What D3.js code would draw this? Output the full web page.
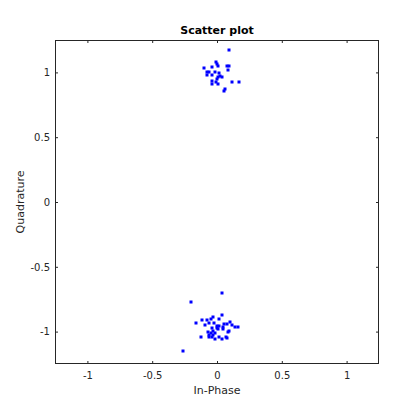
<!DOCTYPE html>
<html><head><meta charset="utf-8">
<script src="https://cdn.jsdelivr.net/npm/d3@7"></script>
<style>body{margin:0;background:#fff}svg{display:block}text{font-family:"DejaVu Sans",sans-serif}</style>
</head><body>
<script>
const upperI = [0.095,-0.010,-0.002,0.005,-0.036,-0.098,0.075,0.093,0.087,-0.079,-0.059,-0.013,-0.075,-0.041,0.015,0.023,0.010,0.036,-0.002,-0.036,-0.036,-0.008,0.010,0.116,0.172,0.064,0.056];
const upperQ = [1.171,1.080,1.065,1.053,1.042,1.032,1.049,1.047,1.016,1.005,1.001,1.003,0.980,0.980,0.993,0.972,0.962,0.967,0.949,0.934,0.908,0.926,0.913,0.924,0.924,0.874,0.854];
const lowerI = [0.041,-0.198,-0.260,-0.029,0.036,0.018,-0.046,-0.079,-0.118,-0.164,-0.062,-0.021,0.100,0.077,0.056,0.118,-0.093,-0.002,0.015,0.044,0.139,0.164,-0.036,-0.002,0.010,0.049,0.095,-0.067,-0.029,-0.046,-0.015,0.085,-0.059,-0.029,-0.123,-0.064,-0.041,-0.015,0.018,0.036,0.067,0.079];
const lowerQ = [-0.704,-0.774,-1.152,-0.890,-0.870,-0.903,-0.903,-0.913,-0.913,-0.936,-0.931,-0.936,-0.928,-0.939,-0.944,-0.951,-0.951,-0.954,-0.954,-0.962,-0.962,-0.967,-0.975,-0.975,-0.982,-0.982,-0.993,-1.001,-0.993,-1.013,-1.008,-1.005,-1.024,-1.029,-1.044,-1.039,-1.039,-1.059,-1.039,-1.055,-1.039,-1.052];
const xTicks = [-1,-0.5,0,0.5,1];
const yTicks = [-1,-0.5,0,0.5,1];
const xTickLabels = ["-1","-0.5","0","0.5","1"];
const yTickLabels = ["-1","-0.5","0","0.5","1"];
const titleText = "Scatter plot";
const xLabel = "In-Phase";
const yLabel = "Quadrature";

const W=420,H=420, L=55, R=379, T=40, B=364;
const svg=d3.select("body").append("svg").attr("width",W).attr("height",H);
const x=d3.scaleLinear().domain([-1.25,1.25]).range([L,R]);
const y=d3.scaleLinear().domain([-1.25,1.25]).range([B,T]);

const pts=[];
upperI.forEach((v,i)=>pts.push([v,upperQ[i]]));
lowerI.forEach((v,i)=>pts.push([v,lowerQ[i]]));

svg.append("rect").attr("x",L).attr("y",T).attr("width",R-L).attr("height",B-T).attr("fill","#fff");

const tcol="#262626";
function styleAxis(g){g.select(".domain").remove();g.selectAll("line").attr("stroke",tcol);g.selectAll("text").attr("fill",tcol).attr("font-size","10px");}
svg.append("g").attr("transform",`translate(0,${B})`).call(d3.axisBottom(x).tickValues(xTicks).tickFormat((d,i)=>xTickLabels[i]).tickSizeInner(-3).tickSizeOuter(0).tickPadding(8)).call(styleAxis);
svg.append("g").attr("transform",`translate(0,${T})`).call(d3.axisTop(x).tickValues(xTicks).tickFormat("").tickSizeInner(-3).tickSizeOuter(0)).call(styleAxis);
svg.append("g").attr("transform",`translate(${L},0)`).call(d3.axisLeft(y).tickValues(yTicks).tickFormat((d,i)=>yTickLabels[i]).tickSizeInner(-3).tickSizeOuter(0).tickPadding(5)).call(styleAxis);
svg.append("g").attr("transform",`translate(${R},0)`).call(d3.axisRight(y).tickValues(yTicks).tickFormat("").tickSizeInner(-3).tickSizeOuter(0)).call(styleAxis);

svg.append("rect").attr("x",L+0.5).attr("y",T+0.5).attr("width",R-L-1).attr("height",B-T-1).attr("fill","none").attr("stroke",tcol).attr("stroke-width",1);

svg.append("g").selectAll("rect").data(pts).join("rect")
  .attr("x",d=>Math.round(x(d[0]))-1.5).attr("y",d=>Math.round(y(d[1]))-1.5)
  .attr("width",3).attr("height",3).attr("fill","#0000ff");

svg.append("text").attr("x",(L+R)/2).attr("y",34).attr("text-anchor","middle").attr("font-size","11px").attr("font-weight","bold").attr("fill","#000").text(titleText);
svg.append("text").attr("x",(L+R)/2).attr("y",394).attr("text-anchor","middle").attr("font-size","11px").attr("fill",tcol).text(xLabel);
svg.append("text").attr("transform",`translate(24,${(T+B)/2}) rotate(-90)`).attr("text-anchor","middle").attr("font-size","11px").attr("fill",tcol).text(yLabel);
</script>
</body></html>
